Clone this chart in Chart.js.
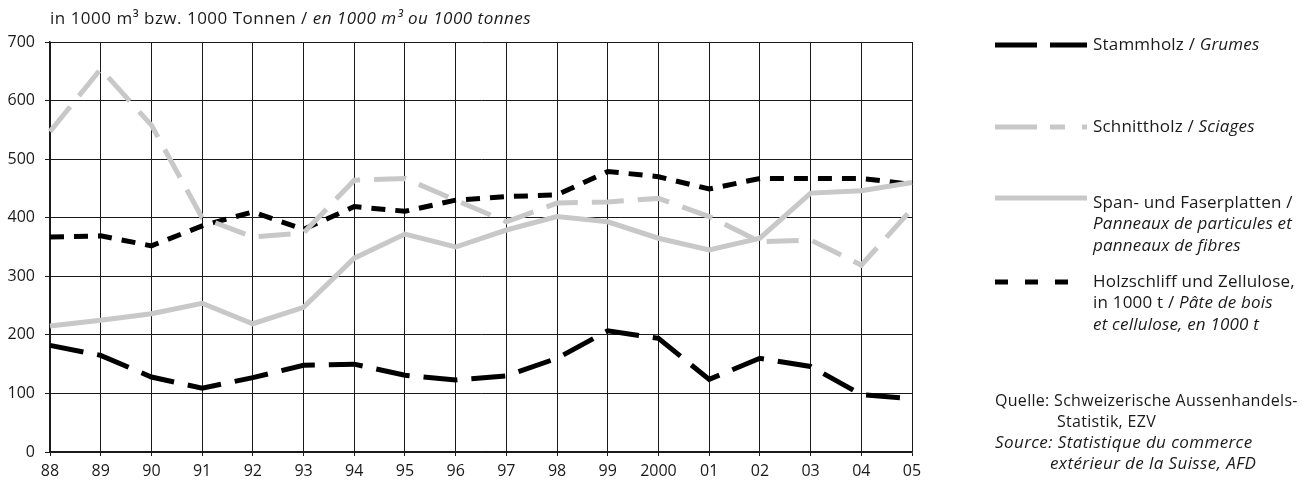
<!DOCTYPE html>
<html>
<head>
<meta charset="utf-8">
<script src="https://cdn.jsdelivr.net/npm/chart.js@4"></script>
<style>
  html, body { margin: 0; padding: 0; background: #fff; }
  #wrap { width: 1302px; height: 480px; }
</style>
</head>
<body>
<div id="wrap"><canvas id="holzChart" width="1302" height="480"></canvas></div>
<script>
// Jahre / années
const years = ['88','89','90','91','92','93','94','95','96','97','98','99','2000','01','02','03','04','05'];

// Werte in 1000 m3 bzw. 1000 t
const stammholz   = [182,165,128,109,127,148,150,131,123,130,160,207,194,124,160,146,98,91];
const schnittholz = [547,654,558,400,367,374,464,467,430,393,425,427,433,402,359,362,319,415];
const spanplatten = [215,225,236,254,219,247,331,372,350,379,402,393,365,345,365,442,446,460];
const holzschliff = [367,369,352,386,410,380,419,411,430,436,439,479,470,449,467,467,467,457];

const yTicks = [0,100,200,300,400,500,600,700];

const FONT = '"Open Sans", "Noto Sans", sans-serif';
const GREY = '#c8c8c8';
const FS = 16;
const TS = 17;

/******** Texte: Titel, Legende, Quelle ********/
const textPlugin = {
  id: 'texte',
  afterDraw(chart) {
    const ctx = chart.ctx;
    ctx.save();
    ctx.textBaseline = 'middle';
    ctx.fillStyle = '#1a1a1a';

    // Titel oben links
    ctx.letterSpacing = '0.5px';
    ctx.font = TS + 'px ' + FONT;
    let t1 = 'in 1000 m\u00B3 bzw. 1000 Tonnen / ';
    ctx.fillText(t1, 50, 19);
    let w = ctx.measureText(t1).width;
    ctx.font = 'italic ' + TS + 'px ' + FONT;
    ctx.fillText('en 1000 m\u00B3 ou 1000 tonnes', 50 + w, 19);

    ctx.letterSpacing = '0.2px';
    // Legende
    const items = [
      {ds: 0, y: 45, x2: 1087, dash: [42,13], lines: [['Stammholz / ', 'Grumes']]},
      {ds: 1, y: 127, x2: 1087, dash: [42,13,15,17,5,20], lines: [['Schnittholz / ', 'Sciages']]},
      {ds: 2, y: 198, x2: 1087, dash: [], lines: [['Span- und Faserplatten /', ''], ['', 'Panneaux de particules et'], ['', 'panneaux de fibres']], ty: 203},
      {ds: 3, y: 282, x2: 1070, dash: [13,17], lines: [['Holzschliff und Zellulose,', ''], ['in 1000 t / ', 'P\u00E2te de bois'], ['', 'et cellulose, en 1000 t']], ty: 282}
    ];
    items.forEach(it => {
      const ds = chart.data.datasets[it.ds];
      ctx.save();
      ctx.strokeStyle = ds.borderColor;
      ctx.lineWidth = ds.borderWidth;
      ctx.setLineDash(it.dash);
      ctx.beginPath();
      ctx.moveTo(995, it.y);
      ctx.lineTo(it.x2, it.y);
      ctx.stroke();
      ctx.restore();
      let ty = it.ty || it.y;
      it.lines.forEach(l => {
        ctx.font = TS + 'px ' + FONT;
        ctx.fillText(l[0], 1093, ty);
        let lw = ctx.measureText(l[0]).width;
        ctx.font = 'italic ' + TS + 'px ' + FONT;
        ctx.fillText(l[1], 1093 + lw, ty);
        ty += 21.5;
      });
    });

    // Quelle
    ctx.letterSpacing = '0.3px';
    ctx.font = FS + 'px ' + FONT;
    ctx.fillText('Quelle: Schweizerische Aussenhandels-', 995, 401);
    ctx.fillText('Statistik, EZV', 1057, 422);
    ctx.letterSpacing = '0.4px';
    ctx.font = 'italic ' + TS + 'px ' + FONT;
    ctx.fillText('Source: Statistique du commerce', 995, 443);
    ctx.fillText('ext\u00E9rieur de la Suisse, AFD', 1050, 464);
    ctx.restore();
  }
};

const data = {
  labels: years,
  datasets: [{
    label: 'Stammholz / Grumes',
    data: stammholz,
    borderColor: '#000',
    borderWidth: 5,
    borderDash: [34,14]
  },{
    label: 'Schnittholz / Sciages',
    data: schnittholz,
    borderColor: GREY,
    borderWidth: 5,
    borderDash: [32,14]
  },{
    label: 'Span- und Faserplatten',
    data: spanplatten,
    borderColor: GREY,
    borderWidth: 5
  },{
    label: 'Holzschliff und Zellulose',
    data: holzschliff,
    borderColor: '#000',
    borderWidth: 5,
    borderDash: [14,10]
  }]
};

const config = {
  type: 'line',
  data: data,
  options: {
    responsive: false,
    animation: false,
    layout: { padding: { top: 42, right: 390, left: 0, bottom: 0 } },
    elements: {
      point: { radius: 0 },
      line: { tension: 0, borderCapStyle: 'butt', borderJoinStyle: 'miter', fill: false }
    },
    plugins: {
      legend: { display: false },
      tooltip: { enabled: false }
    },
    scales: {
      x: {
        offset: false,
        afterFit: s => { s.height = 28; },
        grid: { color: '#1a1a1a', lineWidth: 1, tickLength: 4 },
        border: { color: '#1a1a1a', width: 1.5 },
        ticks: { color: '#1a1a1a', font: { family: FONT, size: FS }, padding: 6, maxRotation: 0, autoSkip: false }
      },
      y: {
        min: 0,
        max: 700,
        afterFit: s => { s.width = 50; },
        afterBuildTicks: s => { s.ticks = yTicks.map(v => ({ value: v })); },
        grid: { color: '#1a1a1a', lineWidth: 1, tickLength: 5 },
        border: { color: '#1a1a1a', width: 1.5 },
        ticks: { color: '#1a1a1a', font: { family: FONT, size: FS }, padding: 10 }
      }
    }
  },
  plugins: [textPlugin]
};

const holzChart = new Chart(document.getElementById('holzChart'), config);
</script>
</body>
</html>
